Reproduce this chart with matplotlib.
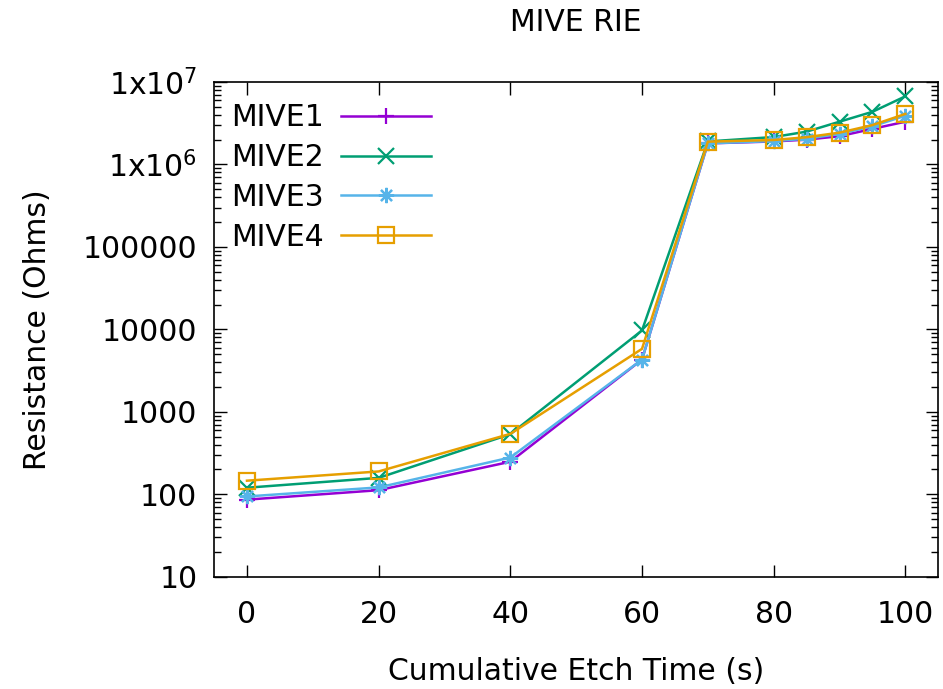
import numpy
import matplotlib
matplotlib.use('Agg')
import matplotlib.pyplot as pyplot
from matplotlib.ticker import FixedLocator, LogLocator, NullFormatter

etch_time = [0, 20, 40, 60, 70, 80, 85, 90, 95, 100]
mive1 = [86, 112, 248, 4300, 1.80e6, 1.90e6, 2.00e6, 2.20e6, 2.70e6, 3.30e6]
mive2 = [120, 158, 535, 9700, 1.90e6, 2.15e6, 2.50e6, 3.30e6, 4.35e6, 6.70e6]
mive3 = [94, 121, 279, 4300, 1.80e6, 1.92e6, 2.05e6, 2.35e6, 2.90e6, 3.90e6]
mive4 = [146, 189, 540, 5800, 1.89e6, 1.98e6, 2.14e6, 2.43e6, 3.00e6, 4.10e6]

series = [('MIVE1', mive1, '#9400d3', '+'),
          ('MIVE2', mive2, '#009e73', 'x'),
          ('MIVE3', mive3, '#56b4e9', (8, 2, 0)),
          ('MIVE4', mive4, '#e69f00', 's')]

y_ticks = [10, 100, 1000, 10000, 100000, 1e6, 1e7]
y_labels = ['10', '100', '1000', '10000', '100000', r'1x10$^{6}$', r'1x10$^{7}$']
x_ticks = [0, 20, 40, 60, 80, 100]

FS = 21.5

pyplot.rcParams['font.family'] = 'DejaVu Sans'
pyplot.rcParams['mathtext.fontset'] = 'dejavusans'
fig = pyplot.figure(figsize=(9.43, 6.89), dpi=100)
ax = fig.add_axes([0.227, 0.163, 0.768, 0.718])

for name, vals, color, marker in series:
    mfc = 'none' if marker == 's' else color
    ax.plot(etch_time, vals, color=color, lw=1.8, marker=marker, markersize=11,
            markerfacecolor=mfc, markeredgewidth=1.6, label=name)

ax.set_yscale('log')
ax.set_ylim(10, 1e7)
ax.set_xlim(-5, 105)
ax.yaxis.set_major_locator(FixedLocator(y_ticks))
ax.set_yticklabels(y_labels)
ax.yaxis.set_minor_locator(LogLocator(base=10, subs=numpy.arange(2, 10)))
ax.yaxis.set_minor_formatter(NullFormatter())
ax.set_xticks(x_ticks)

ax.tick_params(which='both', direction='in', top=True, right=True, labelsize=FS, width=1)
ax.tick_params(which='major', length=9)
ax.tick_params(which='minor', length=5)
ax.tick_params(axis='y', which='major', pad=12)
ax.tick_params(axis='x', which='major', pad=17)
for s in ax.spines.values():
    s.set_linewidth(1.2)

ax.set_title('MIVE RIE', fontsize=FS, pad=37)
ax.set_ylabel('Resistance (Ohms)', fontsize=FS, labelpad=22)
ax.set_xlabel('Cumulative Etch Time (s)', fontsize=FS, labelpad=20)

ax.legend(loc='upper left', frameon=False, markerfirst=False, fontsize=FS,
          handlelength=3.0, labelspacing=0.36, handletextpad=0.6, borderaxespad=0.4,
          bbox_to_anchor=(-0.01, 1.005))

pyplot.savefig('out.png')
